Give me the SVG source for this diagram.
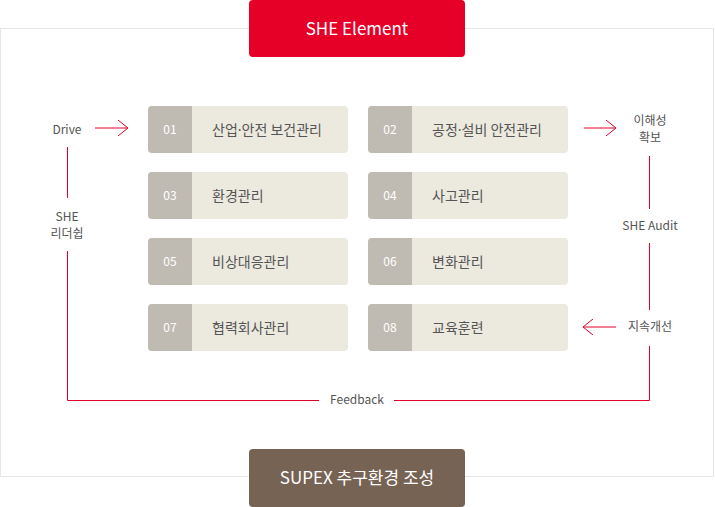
<svg xmlns="http://www.w3.org/2000/svg" width="715" height="507" viewBox="0 0 715 507">
<defs>
<style>
text{font-family:"Noto Sans CJK KR","Noto Sans",sans-serif}
.frame{fill:#fff;stroke:#e6e6e6;stroke-width:1}
.num{fill:#bfbbb3}
.lab{fill:#ece9df}
.nt{fill:#fff;font-size:12px;text-anchor:middle}
.lt{fill:#555;font-size:14px}
.dot{font-family:"Noto Sans",sans-serif}
.st{fill:#555;font-size:12px;text-anchor:middle}
.ln{stroke:#e2002a;stroke-width:1;fill:none}
.ttl{fill:#fff;font-size:17px;text-anchor:middle}
</style>
<marker id="ah" viewBox="0 0 10 16" refX="10" refY="8" markerWidth="10" markerHeight="16" markerUnits="userSpaceOnUse" orient="auto">
<path d="M0,0 L10,8 L0,16" fill="none" stroke="#e2002a" stroke-width="1"/>
</marker>
</defs>
<rect class="frame" x="0.5" y="28.5" width="713" height="448"/>
<g id="she-element">
<rect x="249" y="0" width="216" height="57" rx="4" fill="#e60028"/>
<text class="ttl" x="357" y="35">SHE Element</text>
</g>
<g id="supex">
<rect x="249" y="449" width="216" height="58" rx="4" fill="#766354"/>
<text class="ttl" x="357" y="484">SUPEX 추구환경 조성</text>
</g>
<g id="n01"><rect class="lab" x="148" y="106" width="200" height="47" rx="4"/><path class="num" d="M152,106H192V153H152a4,4 0 0 1 -4,-4V110a4,4 0 0 1 4,-4Z"/><text class="nt" x="170" y="134">01</text><text class="lt" x="212" y="135">산업<tspan class="dot">·</tspan>안전 보건관리</text></g>
<g id="n02"><rect class="lab" x="368" y="106" width="200" height="47" rx="4"/><path class="num" d="M372,106H412V153H372a4,4 0 0 1 -4,-4V110a4,4 0 0 1 4,-4Z"/><text class="nt" x="390" y="134">02</text><text class="lt" x="432" y="135">공정<tspan class="dot">·</tspan>설비 안전관리</text></g>
<g id="n03"><rect class="lab" x="148" y="172" width="200" height="47" rx="4"/><path class="num" d="M152,172H192V219H152a4,4 0 0 1 -4,-4V176a4,4 0 0 1 4,-4Z"/><text class="nt" x="170" y="200">03</text><text class="lt" x="212" y="201">환경관리</text></g>
<g id="n04"><rect class="lab" x="368" y="172" width="200" height="47" rx="4"/><path class="num" d="M372,172H412V219H372a4,4 0 0 1 -4,-4V176a4,4 0 0 1 4,-4Z"/><text class="nt" x="390" y="200">04</text><text class="lt" x="432" y="201">사고관리</text></g>
<g id="n05"><rect class="lab" x="148" y="238" width="200" height="47" rx="4"/><path class="num" d="M152,238H192V285H152a4,4 0 0 1 -4,-4V242a4,4 0 0 1 4,-4Z"/><text class="nt" x="170" y="266">05</text><text class="lt" x="212" y="267">비상대응관리</text></g>
<g id="n06"><rect class="lab" x="368" y="238" width="200" height="47" rx="4"/><path class="num" d="M372,238H412V285H372a4,4 0 0 1 -4,-4V242a4,4 0 0 1 4,-4Z"/><text class="nt" x="390" y="266">06</text><text class="lt" x="432" y="267">변화관리</text></g>
<g id="n07"><rect class="lab" x="148" y="304" width="200" height="47" rx="4"/><path class="num" d="M152,304H192V351H152a4,4 0 0 1 -4,-4V308a4,4 0 0 1 4,-4Z"/><text class="nt" x="170" y="332">07</text><text class="lt" x="212" y="333">협력회사관리</text></g>
<g id="n08"><rect class="lab" x="368" y="304" width="200" height="47" rx="4"/><path class="num" d="M372,304H412V351H372a4,4 0 0 1 -4,-4V308a4,4 0 0 1 4,-4Z"/><text class="nt" x="390" y="332">08</text><text class="lt" x="432" y="333">교육훈련</text></g>
<g id="labels">
<text class="st" x="67" y="134">Drive</text>
<text class="st" x="67" y="221">SHE</text>
<text class="st" x="67" y="238">리더쉽</text>
<text class="st" x="650" y="125">이해성</text>
<text class="st" x="650" y="142">확보</text>
<text class="st" x="650" y="230">SHE Audit</text>
<text class="st" x="650" y="331">지속개선</text>
<text class="st" x="357" y="404">Feedback</text>
</g>
<g id="connectors">
<line class="ln" x1="95" y1="128" x2="128" y2="128" marker-end="url(#ah)"/>
<line class="ln" x1="584" y1="128" x2="616" y2="128" marker-end="url(#ah)"/>
<line class="ln" x1="616" y1="327" x2="583" y2="327" marker-end="url(#ah)"/>
<line class="ln" x1="67.5" y1="147" x2="67.5" y2="198"/>
<path class="ln" d="M67.5,251V400.5H319"/>
<path class="ln" d="M394,400.5H649.5V346"/>
<line class="ln" x1="649.5" y1="156" x2="649.5" y2="209"/>
<line class="ln" x1="649.5" y1="243" x2="649.5" y2="310"/>
</g>
</svg>
